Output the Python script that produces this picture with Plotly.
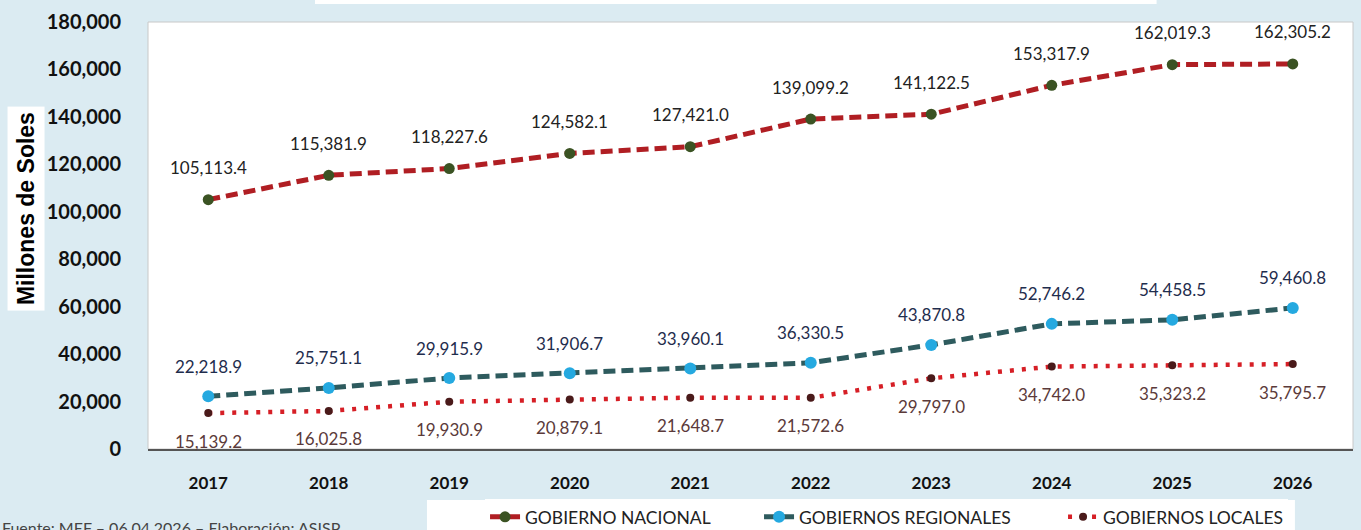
import plotly.graph_objects as go

years = ["2017", "2018", "2019", "2020", "2021", "2022", "2023", "2024", "2025", "2026"]
nacional = [105113.4, 115381.9, 118227.6, 124582.1, 127421.0, 139099.2, 141122.5, 153317.9, 162019.3, 162305.2]
regionales = [22218.9, 25751.1, 29915.9, 31906.7, 33960.1, 36330.5, 43870.8, 52746.2, 54458.5, 59460.8]
locales = [15139.2, 16025.8, 19930.9, 20879.1, 21648.7, 21572.6, 29797.0, 34742.0, 35323.2, 35795.7]

bg = "#dbebf2"
font_main = "Lato"

fig = go.Figure()

fig.add_trace(go.Scatter(
    x=years, y=nacional, name="GOBIERNO NACIONAL", mode="lines+markers",
    line=dict(color="#b01e23", width=5, dash="12px,6px"),
    marker=dict(color="#3b5323", size=11), legendwidth=229,
))
fig.add_trace(go.Scatter(
    x=years, y=regionales, name="GOBIERNOS REGIONALES", mode="lines+markers",
    line=dict(color="#2e5b5e", width=5, dash="12px,6px"),
    marker=dict(color="#25a9e0", size=12), legendwidth=259,
))
fig.add_trace(go.Scatter(
    x=years, y=locales, name="GOBIERNOS LOCALES", mode="lines+markers",
    line=dict(color="#d61f26", width=4.5, dash="4px,8px"),
    marker=dict(color="#4a1a1a", size=8),
))

# data labels (x given as category index)
label_sets = [
    (nacional, 32, "#222222"),
    (regionales, 30, "#1f2d4d"),
    (locales, -28, "#5b3a3a"),
]
annotations = []
for values, shift, color in label_sets:
    for i, v in enumerate(values):
        annotations.append(dict(
            x=i, y=v, xref="x", yref="y", text=f"{v:,.1f}",
            showarrow=False, yshift=shift, xanchor="center", yanchor="middle",
            font=dict(family=font_main, size=17, color=color),
        ))

# y axis title in a white box
annotations.append(dict(
    x=-0.1012, y=0.562, xref="paper", yref="paper", xanchor="center", yanchor="middle",
    text="<b>Millones de Soles</b>",
    textangle=-90, showarrow=False, bgcolor="white", borderpad=5,
    font=dict(family="Liberation Sans", size=23, color="black"),
))
# source note
annotations.append(dict(
    x=-0.1228, y=-0.185, xref="paper", yref="paper", xanchor="left", yanchor="middle",
    text="Fuente: MEF – 06.04.2026 – Elaboración: ASISP", showarrow=False,
    font=dict(family=font_main, size=16, color="#444444"),
))

fig.update_layout(
    width=1361, height=530,
    paper_bgcolor=bg, plot_bgcolor="white",
    margin=dict(l=148, r=8, t=22, b=81, autoexpand=False),
    font=dict(family=font_main),
    annotations=annotations,
    showlegend=True,
    legend=dict(
        orientation="h", x=0.2797, y=-0.117, xanchor="left", yanchor="top",
        bgcolor="white", font=dict(family=font_main, size=17.5, color="#222222"),
    ),
    shapes=[
        dict(type="rect", xref="paper", yref="paper", x0=0, x1=1, y0=0, y1=1,
             line=dict(color="#c8c8c8", width=1), fillcolor="rgba(0,0,0,0)", layer="below"),
        dict(type="rect", xref="paper", yref="paper", x0=0.1386, x1=0.837, y0=1.0422, y1=1.07,
             line=dict(width=0), fillcolor="white"),
        # white backing box of the legend
        dict(type="rect", xref="paper", yref="paper", x0=0.2315, x1=0.9518, y0=-0.1194, y1=-0.25,
             line=dict(width=0), fillcolor="white"),
    ],
)

fig.update_xaxes(
    type="category", range=[-0.5, 9.5], showgrid=False, showline=True,
    linecolor="#555555", linewidth=1.5,
    ticks="", ticklabelstandoff=18,
    tickfont=dict(family=font_main, size=17, color="#111111", weight="bold"),
)
fig.update_yaxes(
    range=[0, 180000], dtick=20000, tickformat=",", showgrid=False, zeroline=False,
    showline=False, ticks="", ticklabelstandoff=26,
    tickfont=dict(family=font_main, size=20, color="#111111", weight="bold"),
)

fig.write_html("out.html", config={"displayModeBar": False},
               post_script="document.body.style.margin='0';")
